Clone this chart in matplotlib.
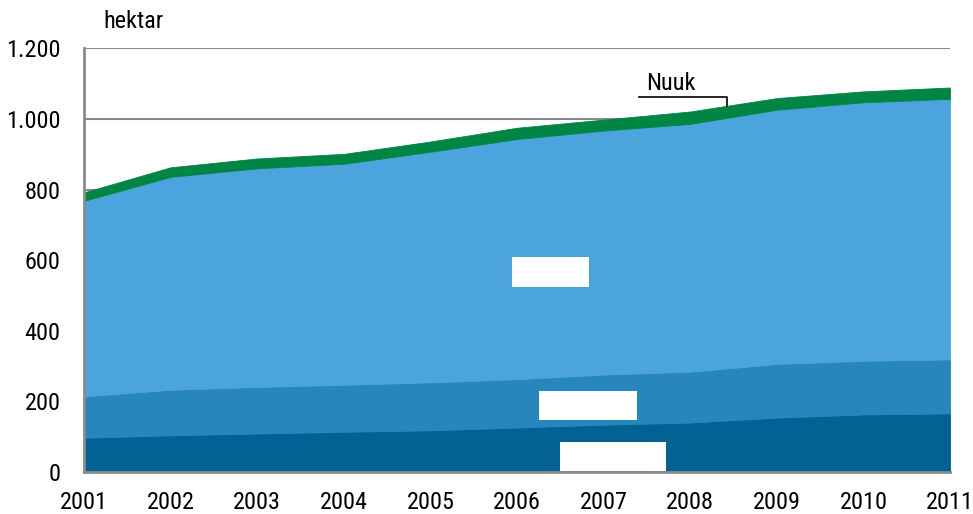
import matplotlib
matplotlib.use("Agg")
import matplotlib.pyplot as plt
from matplotlib.patches import Rectangle
from matplotlib import font_manager

years = [2001, 2002, 2003, 2004, 2005, 2006, 2007, 2008, 2009, 2010, 2011]
layer_dark = [97, 104, 109, 114, 118, 126, 134, 140, 154, 163, 166]
layer_mid = [117, 129, 132, 133, 136, 137, 142, 144, 152, 152, 153]
layer_light = [554, 603, 619, 626, 653, 680, 691, 702, 720, 732, 738]
layer_nuuk = [24, 27, 28, 28, 29, 32, 31, 35, 33, 31, 32]
y_ticks = [0, 200, 400, 600, 800, 1000, 1200]
y_tick_labels = ["0", "200", "400", "600", "800", "1.000", "1.200"]
unit_label = "hektar"
nuuk_label = "Nuuk"

names = {f.name for f in font_manager.fontManager.ttflist}
fam = None
for cand in ["Liberation Sans Narrow", "Roboto Condensed", "Open Sans Condensed", "Arial Narrow"]:
    if cand in names:
        fam = cand
        break
if fam is None:
    fam = "Open Sans"
    fs = 14.5
else:
    fs = 17.5
plt.rcParams["font.family"] = [fam, "DejaVu Sans"]

fig = plt.figure(figsize=(9.73, 5.14), dpi=100)
ax = fig.add_axes([84/973, 42/514, (950-84)/973, (472-48.3)/514])

colors = ["#016293", "#2786bb", "#4ba5dc", "#008544"]
ax.stackplot(years, layer_dark, layer_mid, layer_light, layer_nuuk,
             colors=colors, edgecolor="face", linewidth=0.6, zorder=2)

ax.set_xlim(2001, 2011)
ax.set_ylim(0, 1200)
ax.set_yticks(y_ticks)
ax.set_yticklabels(y_tick_labels)
ax.set_xticks(years)
ax.set_xticklabels([str(y) for y in years])
ax.tick_params(axis="both", length=0, labelsize=fs, colors="black")
ax.tick_params(axis="y", pad=17)
ax.tick_params(axis="x", pad=14)
ax.yaxis.grid(True, color="#8a8a8a", linewidth=1.5, zorder=1)
ax.set_axisbelow(True)
for s in ["top", "right"]:
    ax.spines[s].set_visible(False)
for s in ["left", "bottom"]:
    ax.spines[s].set_color("#8a8a8a")
    ax.spines[s].set_linewidth(2)
    ax.spines[s].set_zorder(3)

# blank label boxes
for (x0, y0, w, h) in [(2005.94, 523, 0.89, 85), (2006.25, 148, 1.14, 82), (2006.50, 4, 1.22, 81)]:
    ax.add_patch(Rectangle((x0, y0), w, h, facecolor="white", edgecolor="none", zorder=4))

# Nuuk annotation
ax.plot([2007.41, 2008.43, 2008.43], [1062, 1062, 1036], color="black", linewidth=1.2, zorder=5, clip_on=False)
ax.text(2007.78, 1068, nuuk_label, fontsize=fs, ha="center", va="bottom", zorder=5)

fig.text(103/973, 1 - 21/514, unit_label, fontsize=fs, ha="left", va="center")

fig.savefig("out.png", dpi=100)
